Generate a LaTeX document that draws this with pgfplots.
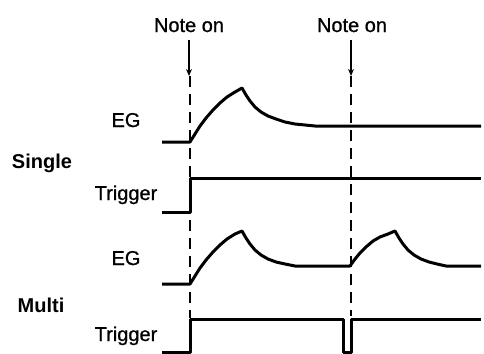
\documentclass[border=0pt]{standalone}
\usepackage{pgfplots}
\pgfplotsset{compat=1.18}
\usepackage{fontspec}
\setmainfont{Liberation Sans}
\newfontfamily\medfont[FakeBold=0.8]{Liberation Sans}
\usetikzlibrary{arrows.meta}
\begin{document}
\begin{tikzpicture}
\useasboundingbox (0,0) rectangle (484bp,354bp);
\begin{axis}[
  at={(0,0)}, anchor=south west,
  width=484bp, height=354bp, scale only axis,
  xmin=0, xmax=484, ymin=0, ymax=354, y dir=reverse,
  hide axis, clip=false,
  every axis plot/.append style={black, line join=round},
]
% dashed Note-on lines
\addplot[line width=1.6bp, dash pattern=on 11bp off 7bp] coordinates {(190,76) (190,318)};
\addplot[line width=1.6bp, dash pattern=on 11bp off 7bp] coordinates {(351,76) (351,316)};
% arrows
\addplot[line width=1.4bp, -{Stealth[length=7bp,width=6bp]}] coordinates {(189,40) (189,76)};
\addplot[line width=1.4bp, -{Stealth[length=7bp,width=6bp]}] coordinates {(351,40) (351,76)};
% Single EG
\addplot[line width=3bp] coordinates {
(162,142) (190,142) (195,134) (200,126) (206,118) (213,110) (220,103) (227,97) (235,92) (242,88)
(246,95) (250,101) (255,107) (261,112) (268,116) (276,119) (285,122) (295,124) (305,125) (315,126) (481,126)};
% Single Trigger
\addplot[line width=3bp] coordinates {(162,212) (190,212) (190,178) (481,178)};
% Multi EG
\addplot[line width=3bp] coordinates {
(162,284) (190,284) (195,276) (200,268) (206,260) (213,252) (220,245) (227,239) (235,234) (242,231)
(246,238) (250,244) (255,250) (261,255) (268,259) (276,262) (285,264) (295,266) (350,266)
(355,259) (360,253) (366,247) (373,241) (380,237) (388,234) (395,231)
(399,238) (403,244) (408,250) (414,255) (421,259) (429,262) (437,264) (446,266) (481,266)};
% Multi Trigger
\addplot[line width=3bp] coordinates {(162,352) (190,352) (190,319) (343,319) (343,352) (351,352) (351,319) (481,319)};
% labels
\begin{scope}[every node/.style={font=\medfont\fontsize{20bp}{22bp}\selectfont, anchor=base, inner sep=0pt, draw=none, text=black}]
\node at (axis cs:189,32) {Note on};
\node at (axis cs:352,32) {Note on};
\node at (axis cs:126,127) {EG};
\node at (axis cs:126,200) {Trigger};
\node at (axis cs:126,265) {EG};
\node at (axis cs:126,341) {Trigger};
\node[font=\fontsize{20bp}{22bp}\selectfont\bfseries] at (axis cs:42,168) {Single};
\node[font=\fontsize{20bp}{22bp}\selectfont\bfseries] at (axis cs:41,312) {Multi};
\end{scope}
\end{axis}
\end{tikzpicture}
\end{document}
